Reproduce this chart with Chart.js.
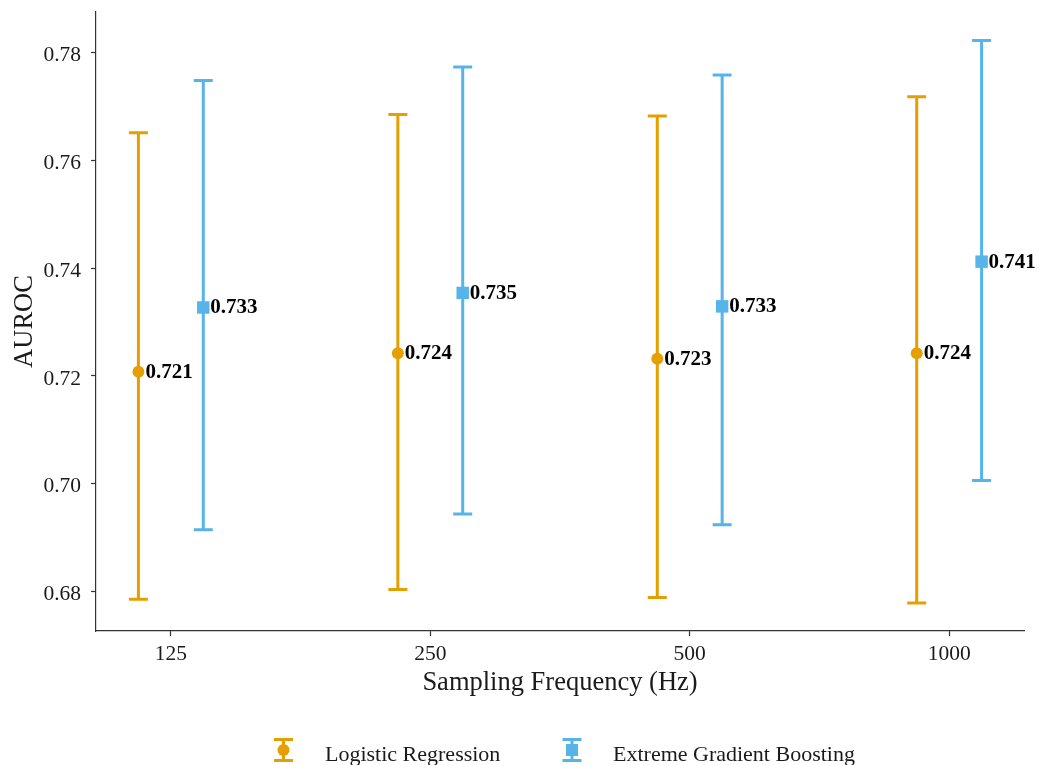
<!DOCTYPE html>
<html>
<head>
<meta charset="utf-8">
<script src="https://cdn.jsdelivr.net/npm/chart.js@4.4.1/dist/chart.umd.min.js"></script>
<style>
  html, body { margin: 0; padding: 0; background: #ffffff; }
  #wrap { width: 1040px; height: 765px; position: relative; }
</style>
</head>
<body>
<div id="wrap"><canvas id="c" width="1040" height="765"></canvas></div>
<script>
// ---- data ----
const categories = ['125', '250', '500', '1000'];
const seriesNames = ['Logistic Regression', 'Extreme Gradient Boosting'];
const lrMean  = [0.7208, 0.7242, 0.7232, 0.7242];
const lrLow   = [0.6786, 0.6804, 0.6789, 0.6779];
const lrHigh  = [0.7651, 0.7685, 0.7682, 0.7718];
const xgbMean = [0.7327, 0.7354, 0.7329, 0.7412];
const xgbLow  = [0.6915, 0.6944, 0.6924, 0.7006];
const xgbHigh = [0.7748, 0.7773, 0.7758, 0.7822];
const yTickValues = [0.68, 0.70, 0.72, 0.74, 0.76, 0.78];

const ORANGE = '#E69F00';
const BLUE = '#56B4E9';
const TEXT = '#1a1a1a';
const SERIF = '"Liberation Serif", "Times New Roman", serif';
const DODGE = 0.125;

const seriesDefs = [
  { name: seriesNames[0], mean: lrMean, low: lrLow, high: lrHigh, color: ORANGE, style: 'circle', radius: 6, shift: -DODGE },
  { name: seriesNames[1], mean: xgbMean, low: xgbLow, high: xgbHigh, color: BLUE, style: 'rect', radius: 8.8, shift: DODGE }
];

const datasets = seriesDefs.map(s => ({
  label: s.name,
  data: s.mean.map((v, i) => ({ x: i + s.shift, y: v })),
  backgroundColor: s.color,
  borderColor: s.color,
  borderWidth: 0,
  pointStyle: s.style,
  pointRadius: s.radius,
  pointHoverRadius: s.radius,
  showLine: false,
  errLow: s.low,
  errHigh: s.high
}));

// error bars drawn from data via the chart scales
const errorBars = {
  id: 'errorBars',
  beforeDatasetsDraw(chart) {
    const { ctx, scales: { x, y } } = chart;
    ctx.save();
    chart.data.datasets.forEach(ds => {
      ctx.strokeStyle = ds.borderColor;
      ctx.lineWidth = 3;
      ctx.lineCap = 'butt';
      ds.data.forEach((p, i) => {
        const px = x.getPixelForValue(p.x);
        const yl = y.getPixelForValue(ds.errLow[i]);
        const yh = y.getPixelForValue(ds.errHigh[i]);
        const half = 9.5;
        ctx.beginPath();
        ctx.moveTo(px, yl); ctx.lineTo(px, yh);
        ctx.moveTo(px - half, yl); ctx.lineTo(px + half, yl);
        ctx.moveTo(px - half, yh); ctx.lineTo(px + half, yh);
        ctx.stroke();
      });
    });
    ctx.restore();
  },
  afterDatasetsDraw(chart) {
    const { ctx, scales: { x, y } } = chart;
    ctx.save();
    ctx.font = 'bold 21px ' + SERIF;
    ctx.fillStyle = '#000';
    ctx.textAlign = 'left';
    ctx.textBaseline = 'alphabetic';
    chart.data.datasets.forEach(ds => {
      ds.data.forEach(p => {
        const px = x.getPixelForValue(p.x);
        const py = y.getPixelForValue(p.y);
        ctx.fillText(p.y.toFixed(3), px + 7, py + 6);
      });
    });
    ctx.restore();
  }
};

// legend at the bottom (error-bar glyph + marker)
const bottomLegend = {
  id: 'bottomLegend',
  afterDraw(chart) {
    const { ctx } = chart;
    const items = [
      { def: seriesDefs[0], cx: 283.5, tx: 325 },
      { def: seriesDefs[1], cx: 572, tx: 613 }
    ];
    ctx.save();
    items.forEach(it => {
      const s = it.def;
      const top = 739.5, bot = 760.5, cy = 750;
      ctx.strokeStyle = s.color;
      ctx.fillStyle = s.color;
      ctx.lineWidth = 3;
      ctx.beginPath();
      ctx.moveTo(it.cx, top); ctx.lineTo(it.cx, bot);
      ctx.moveTo(it.cx - 9.5, top); ctx.lineTo(it.cx + 9.5, top);
      ctx.moveTo(it.cx - 9.5, bot); ctx.lineTo(it.cx + 9.5, bot);
      ctx.stroke();
      ctx.beginPath();
      if (s.style === 'circle') {
        ctx.arc(it.cx, cy, 6, 0, Math.PI * 2);
      } else {
        ctx.rect(it.cx - 6, cy - 6, 12, 12);
      }
      ctx.fill();
      ctx.fillStyle = TEXT;
      ctx.font = '22px ' + SERIF;
      ctx.textAlign = 'left';
      ctx.textBaseline = 'alphabetic';
      ctx.fillText(s.name, it.tx, 761);
    });
    ctx.restore();
  }
};

new Chart(document.getElementById('c'), {
  type: 'scatter',
  data: { datasets },
  plugins: [errorBars, bottomLegend],
  options: {
    responsive: false,
    animation: false,
    events: [],
    layout: { padding: { top: 12, right: 16, bottom: 64, left: 0 } },
    plugins: {
      legend: { display: false },
      tooltip: { enabled: false }
    },
    scales: {
      x: {
        type: 'linear',
        min: -0.2885,
        max: 3.2885,
        afterFit(scale) { scale.height = 70; scale.paddingLeft = 0; scale.paddingRight = 0; },
        afterBuildTicks(scale) { scale.ticks = categories.map((c, i) => ({ value: i })); },
        ticks: {
          callback: (v) => categories[Math.round(v)],
          font: { family: SERIF, size: 21.5 },
          color: TEXT,
          padding: 5,
          maxRotation: 0,
          autoSkip: false
        },
        grid: { drawOnChartArea: false, drawTicks: true, tickLength: 5, color: '#333', tickWidth: 1.2 },
        border: { display: true, color: '#333', width: 1.2 },
        title: {
          display: true,
          text: 'Sampling Frequency (Hz)',
          font: { family: SERIF, size: 26.5, lineHeight: 1.2 },
          color: TEXT,
          padding: { top: 0, bottom: 2 }
        }
      },
      y: {
        type: 'linear',
        min: 0.6727,
        max: 0.7875,
        afterFit(scale) { scale.width = 96; scale.paddingTop = 0; scale.paddingBottom = 0; },
        afterBuildTicks(scale) { scale.ticks = yTickValues.map(v => ({ value: v })); },
        ticks: {
          callback: (v) => v.toFixed(2),
          font: { family: SERIF, size: 21.5 },
          color: TEXT,
          padding: 10,
          labelOffset: 3
        },
        grid: { drawOnChartArea: false, drawTicks: true, tickLength: 5, color: '#333', tickWidth: 1.2 },
        border: { display: true, color: '#333', width: 1.2 },
        title: {
          display: true,
          text: 'AUROC',
          font: { family: SERIF, size: 26.5, lineHeight: 1.2 },
          color: TEXT,
          padding: { top: 9, bottom: 0 }
        }
      }
    }
  }
});
</script>
</body>
</html>
